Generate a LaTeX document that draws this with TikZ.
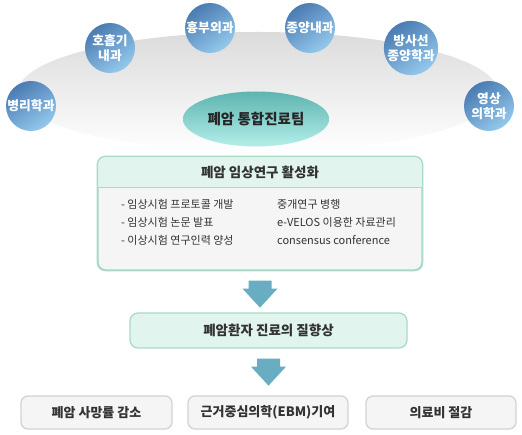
\documentclass[tikz,border=0pt]{standalone}
\usepackage{fontspec}
\setmainfont{Noto Sans CJK KR}
\usepackage{tikz}
\usetikzlibrary{calc,shapes.geometric}
\definecolor{deptdark}{HTML}{4A7BB2}
\definecolor{deptlight}{HTML}{94C9EC}
\definecolor{teamtop}{HTML}{5FB4B0}
\definecolor{teambot}{HTML}{B3EFE9}
\definecolor{mintc}{HTML}{E1F5EE}
\definecolor{mintline}{HTML}{A9DAC7}
\definecolor{bodyc}{HTML}{F5F5F5}
\definecolor{arrowc}{HTML}{69ADC3}
\definecolor{grayline}{HTML}{D3D3D3}
\definecolor{textc}{HTML}{333333}
\tikzset{
  dept/.style={circle, minimum size=50pt, inner sep=0pt, top color=deptdark, bottom color=deptlight, shading angle=35, text=white, align=center, font=\fontsize{12.8}{15}\selectfont\bfseries},
  team/.style={ellipse, minimum width=141pt, minimum height=55pt, top color=teamtop, bottom color=teambot, text=black!85, font=\fontsize{14.5}{16}\selectfont\bfseries},
  actbox/.style={draw=mintline, line width=1.3pt, fill=bodyc, rounded corners=8pt},
  carebox/.style={draw=mintline, line width=1.3pt, fill=mintc, rounded corners=8pt, text=textc, font=\fontsize{13.5}{15}\selectfont\bfseries},
  goalbox/.style={draw=grayline, line width=1.3pt, fill=bodyc, rounded corners=7pt, text=textc, font=\fontsize{13}{15}\selectfont\bfseries},
  itemtxt/.style={text=textc, align=left, inner sep=0pt, font=\fontsize{11}{18}\selectfont},
  downarr/.style={fill=arrowc},
}
\begin{document}
\begin{tikzpicture}[x=1pt,y=-1pt]
\useasboundingbox (0,0) rectangle (522,435);
\shade[top color=black!14, bottom color=white] (258,92) ellipse (240 and 60);
\node[dept] (pathol) at (31,106) {병리학과};
\node[dept] (pulmo) at (110,48) {호흡기\\내과};
\node[dept] (thorac) at (210,28) {흉부외과};
\node[dept] (oncol) at (310,28) {종양내과};
\node[dept] (radonc) at (411,48) {방사선\\종양학과};
\node[dept] (radiol) at (489,106) {영상\\의학과};
\node[team] (team) at (256,119) {폐암 통합진료팀};

\node[actbox, minimum width=324pt, minimum height=113pt] (act) at (260,213.5) {};
\fill[mintc] ([yshift=-31pt]act.north west) [rounded corners=8pt] -- (act.north west) -- (act.north east) [sharp corners] -- ([yshift=-31pt]act.north east) -- cycle;
\draw[mintline, line width=1.3pt] ([yshift=-31pt]act.north west) -- ([yshift=-31pt]act.north east);
\draw[mintline, line width=1.3pt, rounded corners=8pt] (act.north west) rectangle (act.south east);
\node[text=textc, font=\fontsize{13.5}{15}\selectfont\bfseries] (acttitle) at ([yshift=-16pt]act.north) {폐암 임상연구 활성화};
\node[itemtxt, anchor=north west] (leftcol) at (121,199) {- 임상시험 프로토콜 개발\\- 임상시험 논문 발표\\- 이상시험 연구인력 양성};
\node[itemtxt, anchor=north west] (rightcol) at (277,199) {중개연구 병행\\e-VELOS 이용한 자료관리\\consensus conference};

\node[carebox, minimum width=277pt, minimum height=35pt] (care) at (268.5,330.5) {폐암환자 진료의 질향상};
\fill[downarr] ([yshift=-10pt]act.south) ++(-11.5,0) -- ++(23,0) -- ++(0,8) -- ++(6,0) -- ++(-17.5,19) -- ++(-17.5,-19) -- ++(6,0) -- cycle;
\fill[downarr] ([yshift=-10pt]care.south) ++(-11.5,0) -- ++(23,0) -- ++(0,8) -- ++(6,0) -- ++(-17.5,19) -- ++(-17.5,-19) -- ++(6,0) -- cycle;

\node[goalbox, minimum width=151pt, minimum height=33pt] (death) at (96.5,412.5) {폐암 사망률 감소};
\node[goalbox, minimum width=160pt, minimum height=33pt] (ebm) at (268,412.5) {근거중심의학(EBM)기여};
\node[goalbox, minimum width=150pt, minimum height=33pt] (cost) at (441,412.5) {의료비 절감};
\end{tikzpicture}
\end{document}
